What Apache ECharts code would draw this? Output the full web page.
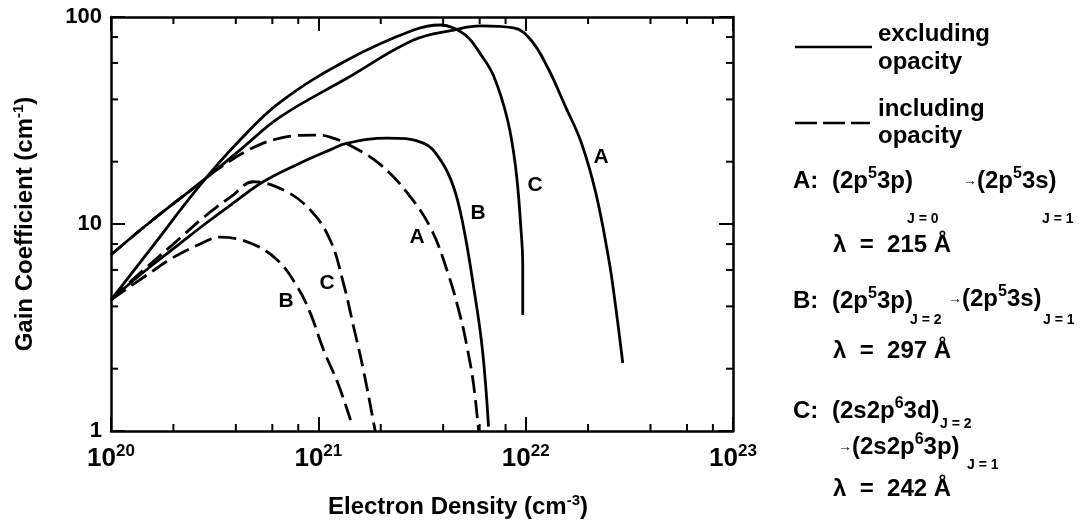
<!DOCTYPE html>
<html lang="en">
<head>
<meta charset="UTF-8">
<title>Gain coefficient vs electron density</title>
<script src="https://cdn.jsdelivr.net/npm/echarts@6.0.0/dist/echarts.min.js"></script>
<style>
  html, body { margin: 0; padding: 0; background: #fff; }
  #main { width: 1081px; height: 529px; }
</style>
</head>
<body>
<div id="main"></div>
<script>
// gain coefficient (cm^-1) against electron density (cm^-3)
var solidA = [[1.0e20, 7.1], [1.54e20, 10.2], [2.69e20, 15.8], [4.2e20, 22.8], [6.55e20, 32.9],
  [1.38e21, 50.7], [2.88e21, 77.4], [4.49e21, 86.5], [6.07e21, 90.5], [8.75e21, 88.5],
  [1.06e22, 77.4], [1.28e22, 56.7], [1.56e22, 36.7], [1.85e22, 24.9], [2.18e22, 14.1],
  [2.52e22, 6.7], [2.69e22, 4.3], [2.94e22, 2.13]];
var solidB = [[1.0e20, 4.3], [1.38e20, 5.67], [2.0e20, 7.6], [2.84e20, 10.0], [3.88e20, 12.6],
  [5.42e20, 16.0], [8.18e20, 19.7], [1.14e21, 22.8], [1.38e21, 24.6], [2.15e21, 26.0],
  [3.21e21, 24.6], [3.88e21, 20.4], [4.49e21, 15.1], [5.01e21, 9.7], [5.61e21, 4.96],
  [6.19e21, 2.46], [6.62e21, 1.05]];
var solidC = [[1.0e20, 4.3], [1.54e20, 7.5], [2.69e20, 15.4], [4.2e20, 25.5], [6.55e20, 38.8],
  [1.38e21, 62.0], [2.88e21, 86.5], [3.88e21, 91.5], [4.49e21, 88.5], [5.25e21, 80],
  [6.07e21, 66], [7.0e21, 52], [8.18e21, 31.8], [8.95e21, 18.7], [9.46e21, 9.9],
  [9.68e21, 6.3], [9.68e21, 3.63]];
var dashedA = [[1.0e20, 7.1], [1.54e20, 10.2], [2.69e20, 15.8], [3.25e20, 18.3], [4.69e20, 23.0],
  [6.55e20, 26.0], [9.46e20, 26.9], [1.14e21, 26.3], [1.48e21, 23.5], [2.0e21, 19.3],
  [2.69e21, 14.1], [3.48e21, 9.57], [4.2e21, 5.86], [4.85e21, 3.55], [5.25e21, 2.46],
  [5.61e21, 1.67], [5.93e21, 1.0]];
var dashedB = [[1.0e20, 4.3], [1.54e20, 5.8], [2.0e20, 6.9], [2.69e20, 8.0], [3.37e20, 8.65],
  [4.69e20, 8.09], [6.34e20, 6.7], [7.93e20, 4.96], [9.14e20, 3.72], [1.06e21, 2.46],
  [1.24e21, 1.71], [1.43e21, 1.13]];
var dashedC = [[1.0e20, 4.3], [1.38e20, 5.8], [2.0e20, 8.0], [2.84e20, 10.9], [3.88e20, 13.8],
  [4.85e20, 16.0], [6.78e20, 14.6], [9.14e20, 11.7], [1.14e21, 8.37], [1.32e21, 5.19],
  [1.48e21, 3.18], [1.65e21, 1.97], [1.85e21, 1.09], [1.88e21, 1.0]];

var xMinorTicks = [2e20, 4e20, 6e20, 8e20, 2e21, 4e21, 6e21, 8e21, 2e22, 4e22, 6e22, 8e22];
var yMinorTicks = [2, 4, 6, 8, 20, 40, 60, 80];

var FONT = '"Liberation Sans", Arial, sans-serif';
var chart = echarts.init(document.getElementById('main'));

function curve(data, dashed) {
  return {
    type: 'line', data: data, smooth: 0.4, symbol: 'none', silent: true,
    lineStyle: { color: '#000', width: 2.8, type: dashed ? [18, 7] : 'solid' }
  };
}

// minor ticks on all four sides of the box
function minorTicks(values, isX) {
  return {
    type: 'custom', silent: true,
    data: values.map(function (v) { return isX ? [v, 1] : [1e20, v]; }),
    renderItem: function (params, api) {
      var segs;
      if (isX) {
        var b = api.coord([api.value(0), 1]), t = api.coord([api.value(0), 100]);
        segs = [[b[0], b[1], b[0], b[1] - 7], [t[0], t[1], t[0], t[1] + 7]];
      } else {
        var l = api.coord([1e20, api.value(1)]), r = api.coord([1e23, api.value(1)]);
        segs = [[l[0], l[1], l[0] + 7, l[1]], [r[0], r[1], r[0] - 7, r[1]]];
      }
      return {
        type: 'group',
        children: segs.map(function (s) {
          return { type: 'line', shape: { x1: s[0], y1: s[1], x2: s[2], y2: s[3] },
            style: { stroke: '#000', lineWidth: 2 } };
        })
      };
    }
  };
}

function logAxis(min, max, pos, extra) {
  return Object.assign({
    type: 'log', logBase: 10, min: min, max: max, position: pos,
    axisLine: { show: true, onZero: false, lineStyle: { color: '#000', width: 2.5 } },
    axisTick: { show: true, inside: true, length: 14, lineStyle: { color: '#000', width: 2 } },
    axisLabel: { show: false },
    splitLine: { show: false }
  }, extra);
}

function sup(size) {
  return { s: { fontSize: size, fontWeight: 'bold', fontFamily: FONT, color: '#000',
    verticalAlign: 'top', lineHeight: size } };
}

function txt(x, y, text, size, extra) {
  var rich = sup(Math.round(size * 0.65));
  rich.ar = { fontSize: 14, fontWeight: 'bold', fontFamily: FONT, color: '#000' };
  return {
    type: 'text', x: x, y: y, silent: true,
    style: Object.assign({
      text: text, fill: '#000', fontFamily: FONT, fontWeight: 'bold', fontSize: size,
      lineHeight: size + 6, rich: rich,
      align: 'left', verticalAlign: 'middle', textAlign: 'left', textVerticalAlign: 'middle'
    }, extra || {})
  };
}

function mid(x, y, text) {
  return txt(x, y, text, 21, { align: 'center', textAlign: 'center' });
}

var option = {
  animation: false,
  backgroundColor: '#fff',
  grid: { left: 111, right: 348, top: 17, bottom: 98, containLabel: false, outerBoundsMode: 'none' },
  xAxis: [
    logAxis(1e20, 1e23, 'bottom', {
      axisLabel: {
        show: true, margin: 12, color: '#000',
        formatter: function (v) { return '{b|10}{s|' + Math.round(Math.log10(v)) + '}'; },
        rich: {
          b: { fontSize: 26, fontWeight: 'bold', fontFamily: FONT, color: '#000', lineHeight: 32 },
          s: { fontSize: 17, fontWeight: 'bold', fontFamily: FONT, color: '#000', verticalAlign: 'top', lineHeight: 17 }
        }
      },
      name: 'Electron Density (cm{s|-3})', nameLocation: 'middle', nameGap: 62,
      nameTextStyle: {
        fontSize: 24, fontWeight: 'bold', fontFamily: FONT, color: '#000', lineHeight: 28,
        padding: [0, 0, 0, 72], rich: sup(15)
      }
    }),
    logAxis(1e20, 1e23, 'top')
  ],
  yAxis: [
    logAxis(1, 100, 'left', {
      axisLabel: { show: true, margin: 9, color: '#000', fontSize: 22, fontWeight: 'bold', fontFamily: FONT },
      name: 'Gain Coefficient (cm{s|-1})', nameLocation: 'middle', nameGap: 72,
      nameTextStyle: {
        fontSize: 24, fontWeight: 'bold', fontFamily: FONT, color: '#000', lineHeight: 28,
        rich: sup(15)
      }
    }),
    logAxis(1, 100, 'right')
  ],
  series: [
    curve(solidA, false), curve(solidB, false), curve(solidC, false),
    curve(dashedA, true), curve(dashedB, true), curve(dashedC, true),
    minorTicks(xMinorTicks, true), minorTicks(yMinorTicks, false)
  ],
  graphic: [
    // curve letters
    mid(601, 157, 'A'), mid(535, 185, 'C'), mid(478, 213, 'B'),
    mid(417, 237, 'A'), mid(327, 283, 'C'), mid(286, 301, 'B'),
    // line style key
    { type: 'line', silent: true, shape: { x1: 795, y1: 47, x2: 872, y2: 47 },
      style: { stroke: '#000', lineWidth: 2.6 } },
    { type: 'line', silent: true, shape: { x1: 795, y1: 123, x2: 870, y2: 123 },
      style: { stroke: '#000', lineWidth: 2.6, lineDash: [22, 6] } },
    txt(878, 34, 'excluding', 24), txt(878, 62, 'opacity', 24),
    txt(878, 109, 'including', 24), txt(878, 136, 'opacity', 24),
    // transitions
    txt(793, 181, 'A:', 24), txt(832, 181, '(2p{s|5}3p)', 24), txt(907, 219, 'J = 0', 14),
    txt(963, 181, '{ar|→}(2p{s|5}3s)', 24), txt(1042, 219, 'J = 1', 14),
    txt(833, 245, 'λ  =  215 Å', 24),
    txt(793, 301, 'B:', 24), txt(832, 301, '(2p{s|5}3p)', 24), txt(910, 320, 'J = 2', 14),
    txt(948, 299, '{ar|→}(2p{s|5}3s)', 24), txt(1043, 320, 'J = 1', 14),
    txt(833, 351, 'λ  =  297 Å', 24),
    txt(793, 411, 'C:', 24), txt(832, 411, '(2s2p{s|6}3d)', 24), txt(940, 424, 'J = 2', 14),
    txt(838, 447, '{ar|→}(2s2p{s|6}3p)', 24), txt(967, 465, 'J = 1', 14),
    txt(833, 489, 'λ  =  242 Å', 24)
  ]
};

chart.setOption(option);
</script>
</body>
</html>
